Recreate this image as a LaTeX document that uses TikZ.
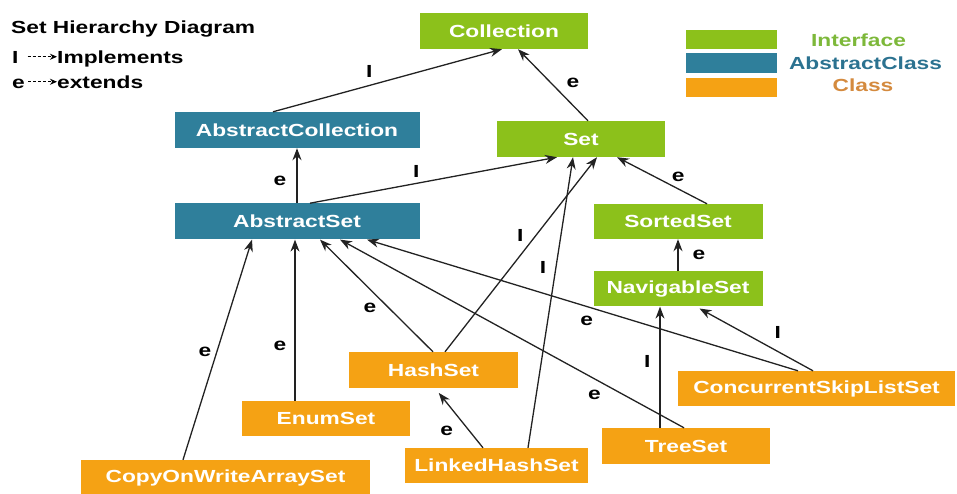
\documentclass[tikz,border=0pt]{standalone}
\usepackage{fontspec}
\setmainfont{Liberation Sans}[FakeStretch=1.3]
\usepackage{xcolor}
\usetikzlibrary{arrows.meta,positioning}

\definecolor{ifgreen}{HTML}{8CC11B}
\definecolor{abblue}{HTML}{2F7F9B}
\definecolor{clorange}{HTML}{F5A214}
\definecolor{ifgreentxt}{HTML}{7DB83A}
\definecolor{abbluetxt}{HTML}{2B7290}
\definecolor{clorangetxt}{HTML}{D48A3E}
\definecolor{linegray}{HTML}{222222}

\begin{document}
\begin{tikzpicture}[
    x=1pt, y=-1pt,
    font=\fontsize{17.5}{20}\selectfont\bfseries,
    box/.style={minimum width=168pt, minimum height=36pt, inner sep=0pt, text=white},
    iface/.style={box, fill=ifgreen},
    abst/.style={box, fill=abblue},
    cls/.style={box, fill=clorange},
    arrow/.style={-{Stealth[length=12pt,width=9pt]}, line width=1.3pt, draw=linegray},
    lbl/.style={inner sep=0pt, text=black},
    legtxt/.style={inner sep=0pt, text height=12.5pt, text depth=0pt},
    legarrow/.style={dash pattern=on 3pt off 2pt, line width=1.4pt, -{Stealth[length=7pt,width=6pt]}},
    swatch/.style={minimum width=91pt, minimum height=19.5pt, inner sep=0pt}
]
\useasboundingbox (0,0) rectangle (957,493);

% title and arrow legend
\node[anchor=base west, inner sep=0pt] (title) at (11,33) {Set Hierarchy Diagram};
\node[legtxt, anchor=base west] (legI) at (12,63) {I};
\node[legtxt, anchor=base west] (legImpl) at (57,63) {Implements};
\node[legtxt, anchor=base west] (legE) at (12,88) {e};
\node[legtxt, anchor=base west] (legExt) at (57,88) {extends};
\draw[legarrow] ([xshift=9pt]legI.east) -- (legImpl.west);
\draw[legarrow] ([xshift=3pt]legE.east) -- (legExt.west);

% colour legend
\node[swatch, fill=ifgreen] (swI) at (731.5,39.5) {};
\node[swatch, fill=abblue] (swA) at (731.5,63) {};
\node[swatch, fill=clorange] (swC) at (731.5,87.5) {};
\node[legtxt, text=ifgreentxt] (txtI) at (858.5,40) {Interface};
\node[legtxt, text=abbluetxt] (txtA) at (865.5,63) {AbstractClass};
\node[legtxt, text=clorangetxt] (txtC) at (863,85.5) {Class};

% interfaces and classes
\node[iface] (coll) at (504,31) {Collection};
\node[abst, minimum width=245pt] (acoll) at (297,130) {AbstractCollection};
\node[abst, minimum width=245pt, below=55pt of acoll] (aset) {AbstractSet};
\node[iface] (set) at (581,139) {Set};
\node[iface, minimum width=169pt, minimum height=35pt] (sorted) at (678,221.5) {SortedSet};
\node[iface, minimum width=169pt, minimum height=35pt, below=32pt of sorted] (nav) {NavigableSet};
\node[cls, minimum width=169pt] (hash) at (433.5,370) {HashSet};
\node[cls, minimum height=35pt] (enum) at (326,418.5) {EnumSet};
\node[cls, minimum width=289pt] (cow) at (225.5,478) {CopyOnWriteArraySet};
\node[cls, minimum width=183pt, minimum height=35pt] (lhash) at (496.5,465.5) {LinkedHashSet};
\node[cls] (tree) at (686,446) {TreeSet};
\node[cls, minimum width=277pt, minimum height=35pt] (csls) at (816.5,388.5) {ConcurrentSkipListSet};

% implements / extends
\draw[arrow] ([xshift=-24pt]acoll.north) -- node[lbl, pos=.42, above=7pt] {I} ([xshift=-2pt]coll.south);
\draw[arrow] ([xshift=7pt]set.north) -- node[lbl, pos=.53, right=15pt] {e} ([xshift=14pt]coll.south);
\draw[arrow] (aset.north) -- node[lbl, pos=.4, left=10pt] {e} (acoll.south);
\draw[arrow] ([xshift=13pt]aset.north) -- node[lbl, pos=.43, above=5pt] {I} ([xshift=-24pt]set.south);
\draw[arrow] ([xshift=29pt]sorted.north) -- node[lbl, pos=.32, above=7pt] {e} ([xshift=36pt]set.south);
\draw[arrow] (nav.north) -- node[lbl, pos=.5, right=14pt] {e} (sorted.south);
\draw[arrow] ([xshift=-0.5pt]hash.north) -- node[lbl, pos=.39, left=12pt] {e} ([xshift=23pt]aset.south);
\draw[arrow] ([xshift=11.5pt]hash.north) -- node[lbl, pos=.6, left=12pt] {I} ([xshift=16pt]set.south);
\draw[arrow, shorten >=6pt] ([xshift=-13.5pt]lhash.north) -- node[lbl, pos=.28, left=16pt] {e} ([xshift=1.5pt]hash.south);
\draw[arrow] ([xshift=31.5pt]lhash.north) -- node[lbl, pos=.62, left=9pt] {I} ([xshift=-8pt]set.south);
\draw[arrow] ([xshift=-31pt]enum.north) -- node[lbl, pos=.34, left=8pt] {e} ([xshift=-2pt]aset.south);
\draw[arrow] ([xshift=-42.5pt]cow.north) -- node[lbl, pos=.49, left=5pt] {e} ([xshift=-45pt]aset.south);
\draw[arrow] ([xshift=-2pt]tree.north) -- node[lbl, pos=.26, below=11pt] {e} ([xshift=43pt]aset.south);
\draw[arrow] ([xshift=-26pt]tree.north) -- node[lbl, pos=.55, left=9pt] {I} ([xshift=-18pt]nav.south);
\draw[arrow] ([xshift=-18.5pt]csls.north) -- node[lbl, pos=.49, below=9pt] {e} ([xshift=70pt]aset.south);
\draw[arrow, shorten >=4pt] ([xshift=-3.5pt]csls.north) -- node[lbl, pos=.59, right=30pt] {I} ([xshift=18pt]nav.south);
\end{tikzpicture}
\end{document}
